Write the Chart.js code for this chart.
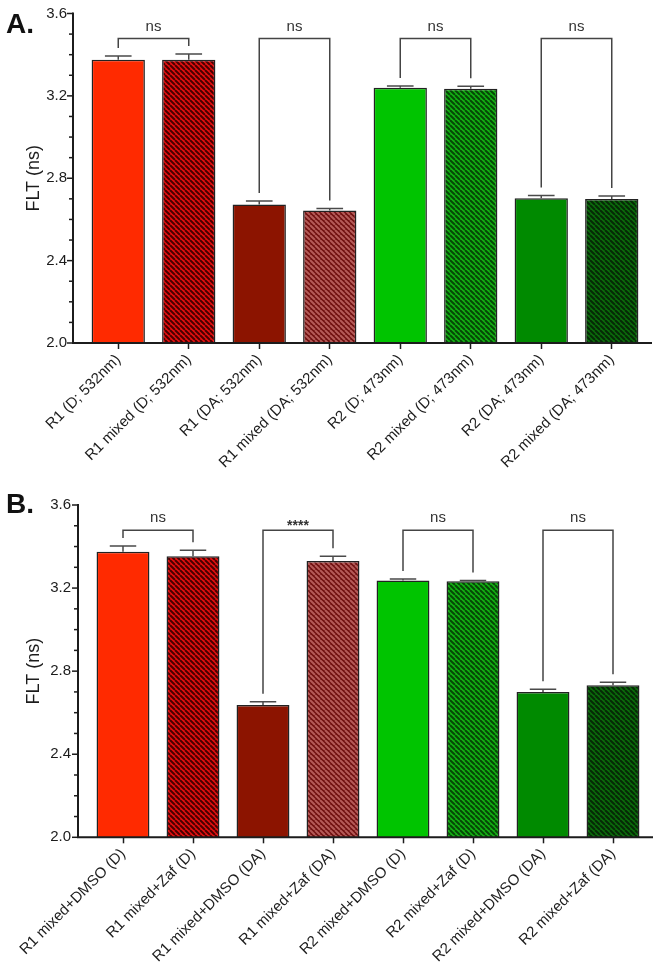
<!DOCTYPE html>
<html>
<head>
<meta charset="utf-8">
<script src="https://cdn.jsdelivr.net/npm/chart.js@4.4.1/dist/chart.umd.min.js"></script>
<style>
    html, body { margin: 0; padding: 0; background: #fff; }
    #wrap { position: relative; width: 660px; height: 975px; }
    .panel { position: absolute; left: 0; width: 660px; }
    #pa { top: 0; height: 480px; }
    #pb { top: 480px; height: 495px; }
</style>
</head>
<body>
<div id="wrap">
    <div class="panel" id="pa"><canvas id="chartA"></canvas></div>
    <div class="panel" id="pb"><canvas id="chartB"></canvas></div>
</div>
<script>
const labelsA = ["R1 (D; 532nm)", "R1 mixed (D; 532nm)", "R1 (DA; 532nm)", "R1 mixed (DA; 532nm)",
    "R2 (D; 473nm)", "R2 mixed (D; 473nm)", "R2 (DA; 473nm)", "R2 mixed (DA; 473nm)"];
const fltA = [3.375, 3.375, 2.673, 2.643, 3.240, 3.235, 2.703, 2.699];
const errA = [0.019, 0.028, 0.016, 0.010, 0.008, 0.012, 0.013, 0.015];
const sigA = ["ns", "ns", "ns", "ns"];

const labelsB = ["R1 mixed+DMSO (D)", "R1 mixed+Zaf (D)", "R1 mixed+DMSO (DA)", "R1 mixed+Zaf (DA)",
    "R2 mixed+DMSO (D)", "R2 mixed+Zaf (D)", "R2 mixed+DMSO (DA)", "R2 mixed+Zaf (DA)"];
const fltB = [3.375, 3.353, 2.637, 3.330, 3.236, 3.233, 2.700, 2.732];
const errB = [0.027, 0.029, 0.016, 0.023, 0.008, 0.004, 0.013, 0.014];
const sigB = ["ns", "****", "ns", "ns"];

const pairs = [[0, 1], [2, 3], [4, 5], [6, 7]];
const yTicks = [2.0, 2.4, 2.8, 3.2, 3.6];
const bracketLevel = 3.478;

const FONT = "'Liberation Sans', Arial, sans-serif";
const INK = "#1c1c1c";

function hatch(bg, fg) {
    const n = 5;
    const c = document.createElement("canvas");
    c.width = n; c.height = n;
    const g = c.getContext("2d");
    g.fillStyle = bg; g.fillRect(0, 0, n, n);
    g.strokeStyle = fg; g.lineWidth = 2;
    g.beginPath();
    for (const k of [-n, 0, n]) { g.moveTo(k, 0); g.lineTo(k + n, n); }
    g.stroke();
    return g.createPattern(c, "repeat");
}

const barColors = [
    "#ff2a00", hatch("#e41010", "#4a0000"),
    "#8c1400", hatch("#701010", "#b45a58"),
    "#00c400", hatch("#14b014", "#064806"),
    "#008a00", hatch("#0c6c0c", "#062a06")
];

// akser, felstaplar, signifikansparenteser och panelbokstav
const decor = {
    id: "decor",
    afterDatasetsDraw(chart, args, o) {
        const { ctx, chartArea: ca } = chart;
        const y = chart.scales.y;
        const bars = chart.getDatasetMeta(0).data;
        const ax = ca.left - o.gap;
        ctx.save();

        ctx.strokeStyle = "#4a4a4a"; ctx.lineWidth = 1.5;
        bars.forEach((b, i) => {
            const top = y.getPixelForValue(o.values[i] + o.errors[i]);
            const half = b.width / 4;
            ctx.beginPath();
            ctx.moveTo(b.x, b.y); ctx.lineTo(b.x, top);
            ctx.moveTo(b.x - half, top); ctx.lineTo(b.x + half, top);
            ctx.stroke();
        });

        ctx.strokeStyle = INK; ctx.lineWidth = 2;
        ctx.beginPath();
        ctx.moveTo(ax, y.getPixelForValue(3.6) - 1); ctx.lineTo(ax, ca.bottom);
        ctx.lineTo(ca.right + 5, ca.bottom);
        ctx.stroke();
        ctx.lineWidth = 1.5;
        for (let k = 0; k <= 16; k++) {
            const py = y.getPixelForValue(2 + k * 0.1);
            ctx.beginPath();
            ctx.moveTo(ax - (k % 4 === 0 ? 6 : 4), py); ctx.lineTo(ax, py);
            ctx.stroke();
        }

        ctx.strokeStyle = "#444"; ctx.lineWidth = 1.5;
        ctx.fillStyle = "#333"; ctx.textAlign = "center"; ctx.textBaseline = "alphabetic";
        const yl = y.getPixelForValue(bracketLevel);
        pairs.forEach(([a, b], k) => {
            const xa = bars[a].x, xb = bars[b].x;
            const ya = y.getPixelForValue(o.values[a] + o.errors[a]) - 8;
            const yb = y.getPixelForValue(o.values[b] + o.errors[b]) - 8;
            ctx.beginPath();
            ctx.moveTo(xa, ya); ctx.lineTo(xa, yl); ctx.lineTo(xb, yl); ctx.lineTo(xb, yb);
            ctx.stroke();
            const star = o.sig[k].startsWith("*");
            ctx.font = (star ? "bold 14px " : "15px ") + FONT;
            ctx.fillText(o.sig[k], (xa + xb) / 2, star ? yl - 0.5 : yl - 8);
        });

        ctx.fillStyle = "#111"; ctx.textAlign = "left";
        ctx.font = "bold 28px " + FONT;
        ctx.fillText(o.letter, 6, 33);
        ctx.restore();
    }
};

function panel(id, labels, values, errors, sig, letter, g) {
    return new Chart(document.getElementById(id), {
        type: "bar",
        data: {
            labels,
            datasets: [{
                data: values,
                backgroundColor: barColors,
                borderColor: "#222",
                borderWidth: 1.5,
                barPercentage: 0.756,
                categoryPercentage: 1
            }]
        },
        options: {
            responsive: true,
            maintainAspectRatio: false,
            animation: false,
            layout: { padding: { top: g.top, right: g.right, left: 0, bottom: 0 } },
            plugins: {
                legend: { display: false },
                tooltip: { enabled: false },
                decor: { values, errors, sig, letter, gap: g.gap }
            },
            scales: {
                x: {
                    offset: true,
                    border: { display: false },
                    grid: { offset: false, drawOnChartArea: false, color: INK, tickLength: 6, tickWidth: 1.5 },
                    ticks: {
                        autoSkip: false, minRotation: 45, maxRotation: 45, padding: 2,
                        color: INK, font: { family: FONT, size: 15 }
                    },
                    afterFit: (s) => { s.height = g.xh; }
                },
                y: {
                    min: 2.0, max: 3.6,
                    border: { display: false },
                    grid: { drawOnChartArea: false, color: "transparent", tickLength: g.gap },
                    afterBuildTicks: (s) => { s.ticks = yTicks.map((v) => ({ value: v })); },
                    ticks: {
                        padding: g.tp, color: INK,
                        font: { family: FONT, size: 15, lineHeight: 1 },
                        callback: (v) => Number(v).toFixed(1)
                    },
                    title: {
                        display: true, text: "FLT (ns)", color: INK,
                        font: { family: FONT, size: 18 }, padding: { top: 23, bottom: 0 }
                    },
                    afterFit: (s) => { s.width = g.left; }
                }
            }
        },
        plugins: [decor]
    });
}

panel("chartA", labelsA, fltA, errA, sigA, "A.", { top: 8, right: 13, left: 83, gap: 10, tp: 6, xh: 137 });
panel("chartB", labelsB, fltB, errB, sigB, "B.", { top: 25, right: 12, left: 88, gap: 10, tp: 7, xh: 137.7 });
</script>
</body>
</html>
